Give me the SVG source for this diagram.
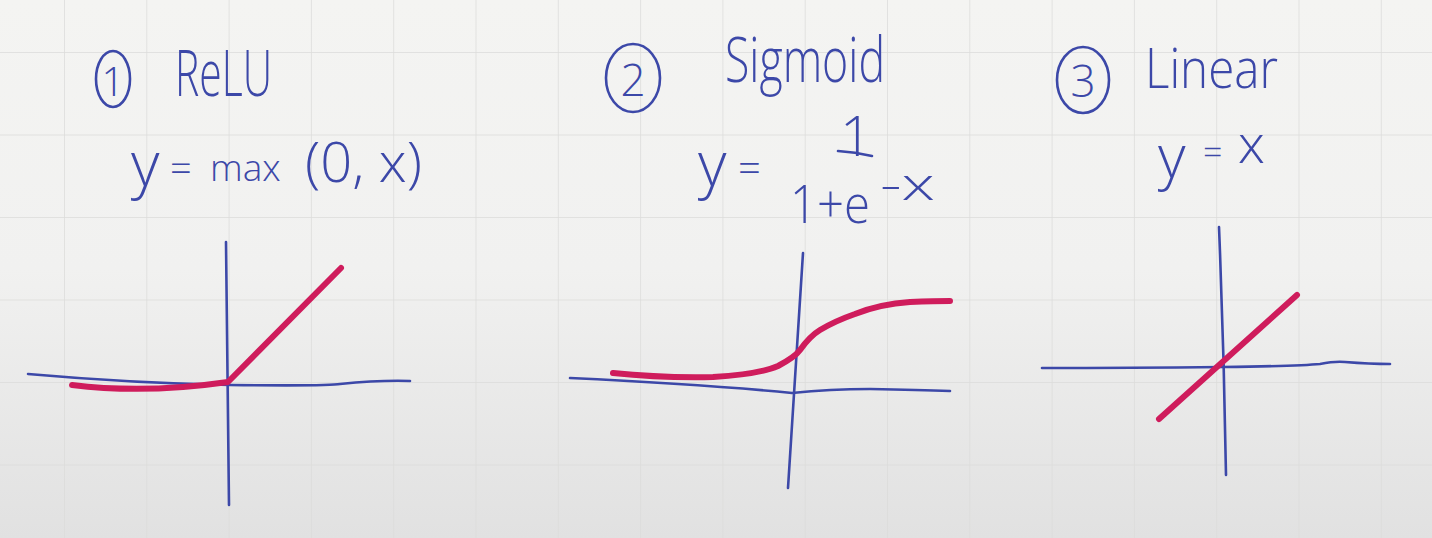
<svg xmlns="http://www.w3.org/2000/svg" width="1432" height="538" viewBox="0 0 1432 538">
<defs>
<linearGradient id="bg" x1="0" y1="0" x2="0" y2="1">
<stop offset="0" stop-color="#f4f4f2"/>
<stop offset="0.5" stop-color="#f1f1f0"/>
<stop offset="1" stop-color="#e1e1e1"/>
</linearGradient>
<pattern id="grid" x="64" y="52" width="82.3" height="82.5" patternUnits="userSpaceOnUse">
<path d="M0 0 V82.5 M0 0 H82.3" fill="none" stroke="#dcdcda" stroke-width="1.5"/>
</pattern>
</defs>
<style>
.ink{fill:none;stroke:#3c48a8;stroke-width:2.6;stroke-linecap:round;stroke-linejoin:round}
.pen{fill:none;stroke:#cf1c5c;stroke-width:6;stroke-linecap:round;stroke-linejoin:round}
.t{font-family:"Open Sans","Liberation Sans",sans-serif;font-weight:300;fill:#3c48a8}
</style>
<rect width="1432" height="538" fill="url(#bg)"/>
<rect width="1432" height="538" fill="url(#grid)"/>

<g id="relu">
<ellipse class="ink" cx="113" cy="79" rx="17" ry="28"/>
<text class="t" x="113" y="96" font-size="40" text-anchor="middle">1</text>
<text class="t" x="175" y="96" font-size="64" textLength="97" lengthAdjust="spacingAndGlyphs">ReLU</text>
<text class="t" x="131" y="186" font-size="62">y</text>
<text class="t" x="170" y="182" font-size="38">=</text>
<text class="t" x="210" y="181" font-size="37">max</text>
<text class="t" x="305" y="182" font-size="56">(0, x)</text>
<path class="ink" d="M226 242 Q228 380 229 505"/>
<path class="ink" d="M28 374 Q130 383 230 385 Q330 386 340 384 Q380 380 410 381"/>
<path class="pen" d="M72 385 Q145 394 228 382 L341 268"/>
</g>

<g id="sigmoid">
<ellipse class="ink" cx="633" cy="78" rx="27" ry="34"/>
<text class="t" x="633" y="96" font-size="44" text-anchor="middle">2</text>
<text class="t" x="725" y="82" font-size="62" textLength="160" lengthAdjust="spacingAndGlyphs">Sigmoid</text>
<text class="t" x="698" y="186" font-size="62">y</text>
<text class="t" x="738" y="182" font-size="40">=</text>
<text class="t" x="840" y="156" font-size="56">1</text>
<path class="ink" d="M838 151 Q855 152 872 156"/>
<text class="t" x="790" y="223" font-size="54" textLength="80" lengthAdjust="spacingAndGlyphs">1+e</text>
<text class="t" x="880" y="200" font-size="44" textLength="55" lengthAdjust="spacingAndGlyphs">-x</text>
<path class="ink" d="M803 253 Q796 370 788 488"/>
<path class="ink" d="M570 378 Q700 384 792 393 Q830 389 870 389 Q920 390 950 391"/>
<path class="pen" d="M613 373 Q660 378 713 377 Q760 374 778 366 Q795 357 800 350 Q810 336 820 330 Q835 321 855 314 Q880 304 910 302 Q935 301 950 301"/>
</g>

<g id="linear">
<ellipse class="ink" cx="1083" cy="80" rx="26" ry="33"/>
<text class="t" x="1083" y="97" font-size="44" text-anchor="middle">3</text>
<text class="t" x="1145" y="88" font-size="56" textLength="133" lengthAdjust="spacingAndGlyphs">Linear</text>
<text class="t" x="1158" y="178" font-size="60">y</text>
<text class="t" x="1203" y="164" font-size="34">=</text>
<text class="t" x="1238" y="163" font-size="54">x</text>
<path class="ink" d="M1219 227 Q1224 350 1226 475"/>
<path class="ink" d="M1042 368 Q1130 368 1223 367 Q1300 366 1320 364 Q1335 361 1345 362 Q1370 364 1390 364"/>
<path class="pen" d="M1159 419 L1297 295"/>
</g>
</svg>
